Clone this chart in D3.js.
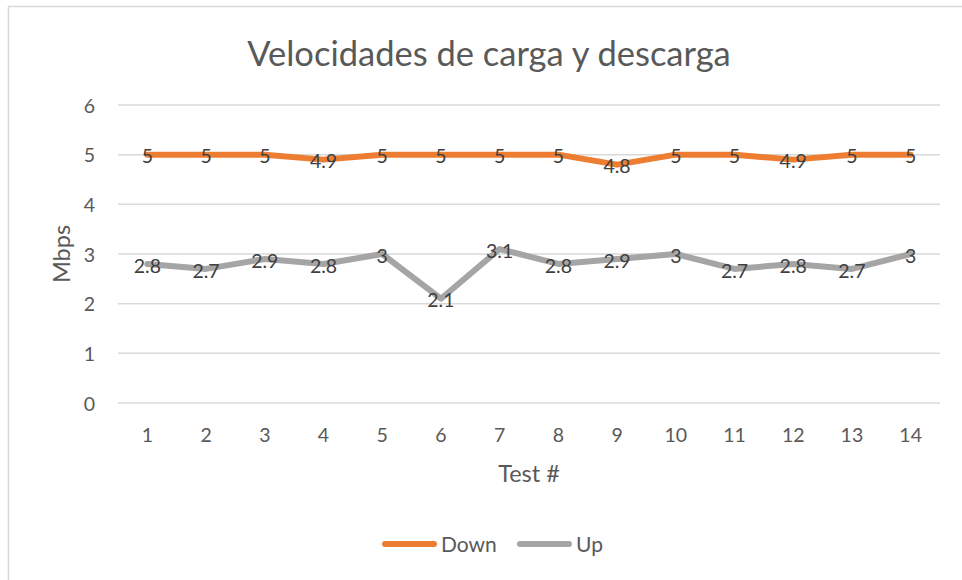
<!DOCTYPE html>
<html>
<head>
<meta charset="utf-8">
<script src="https://cdn.jsdelivr.net/npm/d3@7"></script>
<style>
  html, body { margin: 0; padding: 0; background: #fff; }
  svg { display: block; font-family: Lato, "Open Sans", sans-serif; }
</style>
</head>
<body>
<svg id="chart" width="962" height="580"></svg>
<script>
// Test numbers and measured speeds (Mbps)
const tests = ["1","2","3","4","5","6","7","8","9","10","11","12","13","14"];
const down = [5, 5, 5, 4.9, 5, 5, 5, 5, 4.8, 5, 5, 4.9, 5, 5];
const up = [2.8, 2.7, 2.9, 2.8, 3, 2.1, 3.1, 2.8, 2.9, 3, 2.7, 2.8, 2.7, 3];
const yTicks = [0, 1, 2, 3, 4, 5, 6];
const seriesNames = ["Down", "Up"];
const seriesColors = ["#ED7D31", "#A5A5A5"];

const svg = d3.select("#chart");
const W = 962, H = 580;
const plot = { left: 118, right: 940, top: 105, bottom: 403 };

// Chart area frame
svg.append("rect")
  .attr("x", 8.5).attr("y", 6.5)
  .attr("width", W + 20).attr("height", H + 20)
  .attr("fill", "#fff").attr("stroke", "#d9d9d9").attr("stroke-width", 1.5);

const x = d3.scaleBand().domain(tests).range([plot.left, plot.right]).padding(0);
const y = d3.scaleLinear().domain([0, 6]).range([plot.bottom, plot.top]);
const cx = d => x(d) + x.bandwidth() / 2;

// Horizontal gridlines
svg.append("g")
  .selectAll("line").data(yTicks).join("line")
  .attr("x1", plot.left).attr("x2", plot.right)
  .attr("y1", d => y(d)).attr("y2", d => y(d))
  .attr("stroke", "#d9d9d9").attr("stroke-width", 1.5);

// Y axis labels
const yAxis = d3.axisLeft(y).tickValues(yTicks).tickSize(0).tickPadding(0).tickFormat(d3.format("d"));
const gy = svg.append("g").attr("transform", `translate(${plot.left - 23},0)`).call(yAxis);
gy.select(".domain").remove();
gy.selectAll("text").attr("fill", "#595959").attr("font-size", 19.5).attr("font-family", "Lato, sans-serif").attr("dy", "0.36em");

// X axis labels
const xAxis = d3.axisBottom(x).tickSize(0).tickPadding(0);
const gx = svg.append("g").attr("transform", `translate(0,${plot.bottom + 25})`).call(xAxis);
gx.select(".domain").remove();
gx.selectAll("text").attr("fill", "#595959").attr("font-size", 19.5).attr("font-family", "Lato, sans-serif").attr("dy", "0.71em");

// Title
svg.append("text")
  .attr("x", 489).attr("y", 66)
  .attr("text-anchor", "middle")
  .attr("fill", "#595959").attr("font-size", 34.5)
  .text("Velocidades de carga y descarga");

// Axis titles
svg.append("text")
  .attr("transform", `translate(70,${(plot.top + plot.bottom) / 2}) rotate(-90)`)
  .attr("text-anchor", "middle")
  .attr("fill", "#595959").attr("font-size", 23.5)
  .text("Mbps");

svg.append("text")
  .attr("x", (plot.left + plot.right) / 2).attr("y", 482)
  .attr("text-anchor", "middle")
  .attr("fill", "#595959").attr("font-size", 23.5)
  .text("Test #");

// Lines
const line = d3.line().x((d, i) => cx(tests[i])).y(d => y(d));
const series = [down, up];
series.forEach((vals, s) => {
  svg.append("path")
    .datum(vals)
    .attr("d", line)
    .attr("fill", "none")
    .attr("stroke", seriesColors[s])
    .attr("stroke-width", 6)
    .attr("stroke-linejoin", "round")
    .attr("stroke-linecap", "round");
});

// Data labels centred on each point
series.forEach((vals, s) => {
  svg.append("g")
    .selectAll("text").data(vals).join("text")
    .attr("x", (d, i) => cx(tests[i]))
    .attr("y", d => y(d))
    .attr("dy", "0.45em")
    .attr("text-anchor", "middle")
    .attr("fill", "#404040").attr("font-size", 19.5)
    .text(d => d);
});

// Legend
const legend = svg.append("g");
const legendItems = [
  { name: seriesNames[0], color: seriesColors[0], x: 382 },
  { name: seriesNames[1], color: seriesColors[1], x: 517 }
];
legendItems.forEach(it => {
  legend.append("line")
    .attr("x1", it.x + 3).attr("x2", it.x + 52)
    .attr("y1", 544).attr("y2", 544)
    .attr("stroke", it.color).attr("stroke-width", 6)
    .attr("stroke-linecap", "round");
  legend.append("text")
    .attr("x", it.x + 59).attr("y", 544).attr("dy", "0.36em")
    .attr("fill", "#595959").attr("font-size", 21)
    .text(it.name);
});
</script>
</body>
</html>
